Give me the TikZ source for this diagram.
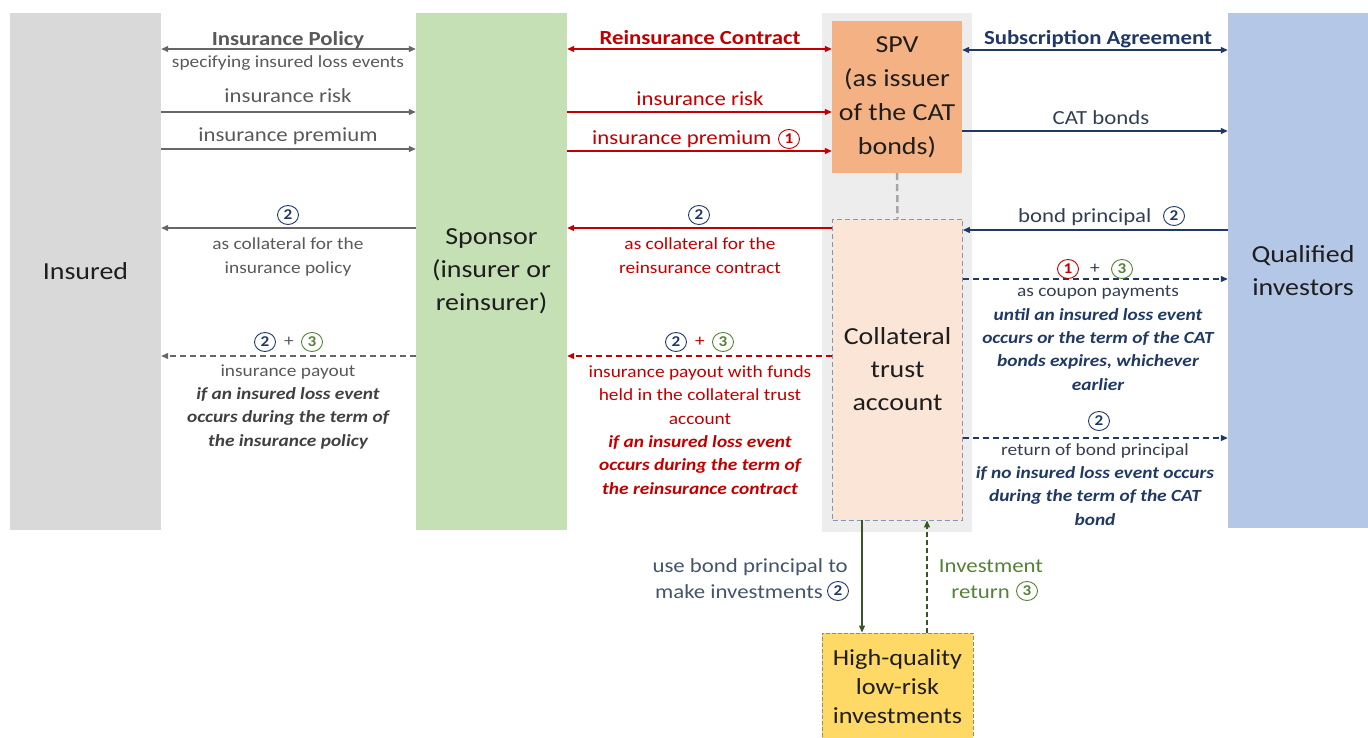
\documentclass[tikz,border=0pt]{standalone}
\usepackage{fontspec}
\setmainfont{Carlito}[FakeStretch=1.14]
\usetikzlibrary{arrows.meta,shapes.geometric}

\definecolor{insgray}{HTML}{D9D9D9}
\definecolor{spgreen}{HTML}{C5E0B4}
\definecolor{panelgray}{HTML}{EDEDED}
\definecolor{spvorange}{HTML}{F4B183}
\definecolor{ctapeach}{HTML}{FBE5D6}
\definecolor{invblue}{HTML}{B4C7E7}
\definecolor{hqyellow}{HTML}{FFD966}
\definecolor{txtdark}{HTML}{1E1E1E}
\definecolor{gtxt}{HTML}{595959}
\definecolor{gbold}{HTML}{404040}
\definecolor{garrow}{HTML}{666666}
\definecolor{rtxt}{HTML}{C00000}
\definecolor{ntxt}{HTML}{333F50}
\definecolor{nbold}{HTML}{1F3864}
\definecolor{cnavy}{HTML}{1F3864}
\definecolor{cred}{HTML}{C00000}
\definecolor{cgreen}{HTML}{548235}
\definecolor{darkgreen}{HTML}{385723}
\definecolor{slate}{HTML}{44546A}
\definecolor{ctaborder}{HTML}{8497B0}
\definecolor{hqborder}{HTML}{9C8B5E}
\definecolor{linkgray}{HTML}{A6A6A6}

\newcommand\condline[1]{{\bfseries\itshape #1}}

\begin{document}
\begin{tikzpicture}[x=1pt,y=-1pt,
  box/.style={rectangle, inner sep=0pt, align=center, text=txtdark,
    font=\fontsize{24.5}{33}\selectfont},
  % multi-line labels are placed by the baseline of their last line
  lab/.style={anchor=base, align=center, inner sep=0pt},
  bigf/.style={font=\fontsize{20}{24}\selectfont},
  bigb/.style={font=\fontsize{20}{24}\selectfont\bfseries},
  smallf/.style={font=\fontsize{17}{23.3}\selectfont},
  plus/.style={anchor=center, inner sep=0pt, font=\fontsize{17}{20}\selectfont},
  cnum/.style={ellipse, draw=#1, text=#1, line width=0.9pt, minimum width=21pt,
    minimum height=19pt, inner sep=0pt, font=\fontsize{15}{15}\selectfont\bfseries},
  tip/.style={-{Triangle[length=7pt,width=6pt]}},
  flow/.style={tip, line width=1.2pt},
  both/.style={{Triangle[length=7pt,width=6pt]}-{Triangle[length=7pt,width=6pt]}, line width=1.2pt},
  dashflow/.style={flow, dash pattern=on 6pt off 4pt},
]
\useasboundingbox (0,0) rectangle (1368,738);

% ---------- parties ----------
\node[box, fill=insgray, minimum width=151pt, minimum height=517pt] (insured) at (85.5,271.5) {Insured};
\node[box, fill=spgreen, minimum width=151pt, minimum height=517pt] (sponsor) at (491.5,271.5) {Sponsor\\(insurer or\\reinsurer)};
\node[fill=panelgray, minimum width=150pt, minimum height=519pt, inner sep=0pt] (panel) at (897,272.5) {};
\node[box, fill=spvorange, minimum width=130pt, minimum height=152pt, font=\fontsize{24.5}{34}\selectfont] (spv) at (897,97) {SPV\\(as issuer\\of the CAT\\bonds)};
\node[box, fill=ctapeach, draw=ctaborder, line width=0.9pt, dash pattern=on 5pt off 3pt,
  minimum width=130pt, minimum height=301pt] (cta) at (897.5,369.5) {Collateral\\trust\\account};
% the investors column runs past the right edge of the page
\node[box, fill=invblue, minimum width=150pt, minimum height=515pt] (investors) at (1303,270.5) {Qualified\\investors};
\node[box, fill=hqyellow, draw=hqborder, line width=0.9pt, dash pattern=on 4pt off 2pt,
  minimum width=151pt, minimum height=108pt, font=\fontsize{23}{29}\selectfont] (hq) at (897.5,687) {High-quality\\low-risk\\investments};

\draw[linkgray, line width=2.5pt, dash pattern=on 7pt off 4pt] (spv.south) -- (cta.north);

% ---------- insured <-> sponsor ----------
\draw[both, garrow] (insured.east |- 0,49) -- (sponsor.west |- 0,49);
\draw[flow, garrow] (insured.east |- 0,112) -- (sponsor.west |- 0,112);
\draw[flow, garrow] (insured.east |- 0,149) -- (sponsor.west |- 0,149);
\draw[flow, garrow] (sponsor.west |- 0,228) -- (insured.east |- 0,228);
\draw[dashflow, garrow] (sponsor.west |- 0,356) -- (insured.east |- 0,356);

\node[lab, bigb, text=gtxt] (polL) at (288,46) {Insurance Policy};
\node[lab, smallf, text=gtxt] (specL) at (288,68) {specifying insured loss events};
\node[lab, bigf, text=gtxt] (riskL) at (288,103) {insurance risk};
\node[lab, bigf, text=gtxt] (premL) at (288,142) {insurance premium};
\node[cnum=cnavy] (twoL) at (288,215) {2};
\node[lab, smallf, text=gtxt] (collL) at (288,273) {as collateral for the\\insurance policy};
\node[cnum=cnavy] (twoLb) at (265,342) {2};
\node[plus, text=gtxt] (plusL) at (289,342) {+};
\node[cnum=cgreen] (threeL) at (312,342) {3};
\node[lab, smallf, text=gtxt] (payL) at (288,446) {insurance payout\\
  \textcolor{gbold}{\condline{if an insured loss event}}\\
  \textcolor{gbold}{\condline{occurs during the term of}}\\
  \textcolor{gbold}{\condline{the insurance policy}}};

% ---------- sponsor <-> SPV / trust account ----------
\draw[both, rtxt] (sponsor.east |- 0,49) -- (spv.west |- 0,49);
\draw[flow, rtxt] (sponsor.east |- 0,112) -- (spv.west |- 0,112);
\draw[flow, rtxt] (sponsor.east |- 0,151) -- (spv.west |- 0,151);
\draw[flow, rtxt] (cta.west |- 0,228) -- (sponsor.east |- 0,228);
\draw[dashflow, rtxt] (cta.west |- 0,356) -- (sponsor.east |- 0,356);

\node[lab, bigb, text=rtxt] (reinR) at (700,45) {Reinsurance Contract};
\node[lab, bigf, text=rtxt] (riskR) at (700,106) {insurance risk};
\node[lab, bigf, text=rtxt, anchor=base west] (premR) at (592,145) {insurance premium};
\node[cnum=cred] (oneR) at (789,139) {1};
\node[cnum=cnavy] (twoR) at (699,215) {2};
\node[lab, smallf, text=rtxt] (collR) at (700,273) {as collateral for the\\reinsurance contract};
\node[cnum=cnavy] (twoRb) at (676,342) {2};
\node[plus, text=rtxt] (plusR) at (700,342) {+};
\node[cnum=cgreen] (threeR) at (723,342) {3};
\node[lab, smallf, text=rtxt] (payR) at (700,494) {insurance payout with funds\\
  held in the collateral trust\\ account\\
  \condline{if an insured loss event}\\
  \condline{occurs during the term of}\\
  \condline{the reinsurance contract}};

% ---------- SPV / trust account <-> investors ----------
\draw[both, nbold] (spv.east |- 0,50) -- (investors.west |- 0,50);
\draw[flow, nbold] (spv.east |- 0,131) -- (investors.west |- 0,131);
\draw[flow, nbold] (investors.west |- 0,230) -- (cta.east |- 0,230);
\draw[dashflow, nbold] (cta.east |- 0,279) -- (investors.west |- 0,279);
\draw[dashflow, nbold] (cta.east |- 0,438) -- (investors.west |- 0,438);

\node[lab, bigb, text=nbold] (subI) at (1098,45) {Subscription Agreement};
\node[lab, bigf, text=ntxt] (catI) at (1101,125) {CAT bonds};
\node[lab, bigf, text=ntxt, anchor=base west] (prinI) at (1018,223) {bond principal};
\node[cnum=cnavy] (twoI) at (1174,216) {2};
\node[cnum=cred] (oneI) at (1068,269) {1};
\node[plus, text=ntxt] (plusI) at (1095,269) {+};
\node[cnum=cgreen] (threeI) at (1122,269) {3};
\node[lab, smallf, text=ntxt] (coupI) at (1098,390) {as coupon payments\\
  \textcolor{nbold}{\condline{until an insured loss event}}\\
  \textcolor{nbold}{\condline{occurs or the term of the CAT}}\\
  \textcolor{nbold}{\condline{bonds expires, whichever}}\\
  \textcolor{nbold}{\condline{earlier}}};
\node[cnum=cnavy] (twoIb) at (1099,421) {2};
\node[lab, smallf, text=ntxt] (retI) at (1095,525) {return of bond principal\\
  \textcolor{nbold}{\condline{if no insured loss event occurs}}\\
  \textcolor{nbold}{\condline{during the term of the CAT}}\\
  \textcolor{nbold}{\condline{bond}}};

% ---------- trust account <-> investments ----------
\draw[flow, darkgreen] (cta.south -| 862,0) -- (hq.north -| 862,0);
\draw[dashflow, darkgreen, dash pattern=on 5pt off 3pt] (hq.north -| 927,0) -- (cta.south -| 927,0);

\node[lab, bigf, text=slate, anchor=base east] (useB) at (848,572) {use bond principal to};
\node[lab, bigf, text=slate, anchor=base east] (makeB) at (823,598) {make investments};
\node[cnum=cnavy] (twoB) at (838,591) {2};
\node[lab, bigf, text=cgreen] (invB) at (991,572) {Investment};
\node[lab, bigf, text=cgreen, anchor=base east] (retB) at (1010,598) {return};
\node[cnum=cgreen] (threeB) at (1027,591) {3};
\end{tikzpicture}
\end{document}
